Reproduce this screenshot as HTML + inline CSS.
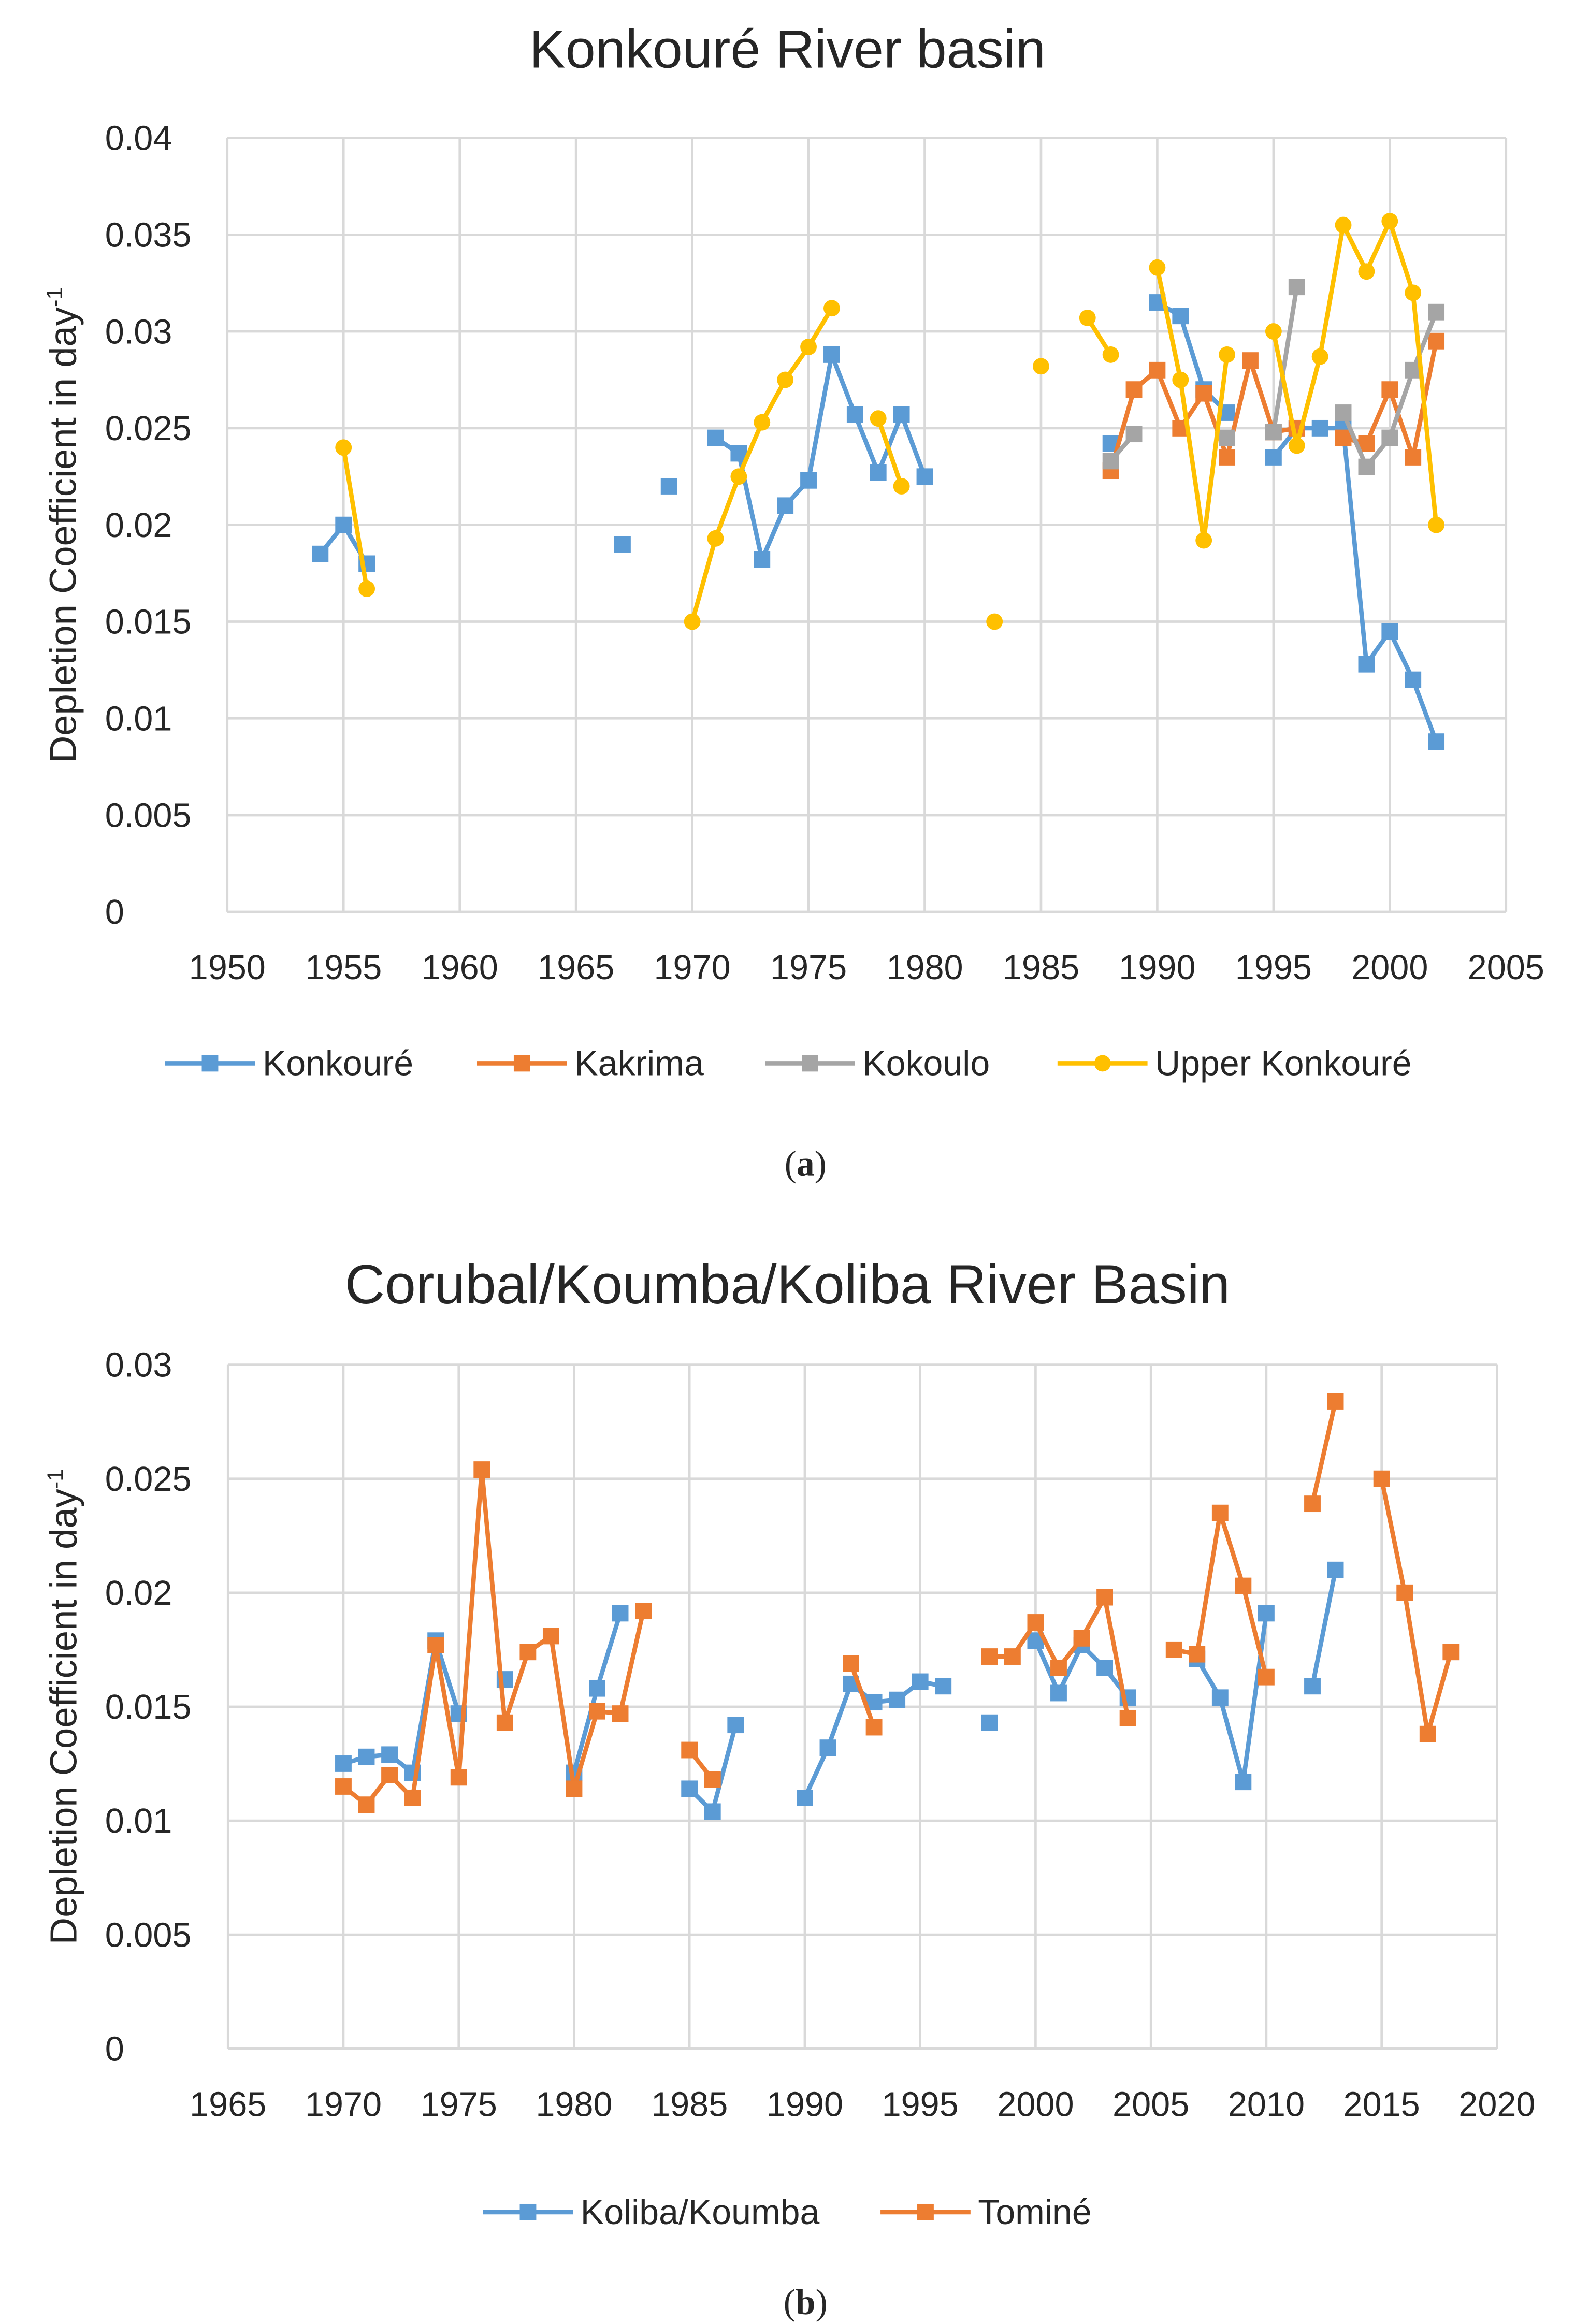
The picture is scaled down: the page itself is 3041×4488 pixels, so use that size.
<!DOCTYPE html>
<html><head><meta charset="utf-8">
<style>
html,body{margin:0;padding:0;background:#fff;}
svg{display:block;}
text{font-family:"Liberation Sans",sans-serif;fill:#262626;}
</style></head>
<body>
<svg id="fig" width="3041" height="4488" viewBox="0 0 1050 1549.6" xmlns="http://www.w3.org/2000/svg">
<g id="chartA"></g>
<g id="chartB"></g>
</svg>
<script>
// ---- Chart A data ----
const yearsA = [1950,1951,1952,1953,1954,1955,1956,1957,1958,1959,1960,1961,1962,1963,1964,1965,1966,1967,1968,1969,1970,1971,1972,1973,1974,1975,1976,1977,1978,1979,1980,1981,1982,1983,1984,1985,1986,1987,1988,1989,1990,1991,1992,1993,1994,1995,1996,1997,1998,1999,2000,2001,2002];
const konkoure = [null,null,null,null,0.0185,0.020,0.018,null,null,null,null,null,null,null,null,null,null,0.019,null,0.022,null,0.0245,0.0237,0.0182,0.021,0.0223,0.0288,0.0257,0.0227,0.0257,0.0225,null,null,null,null,null,null,null,0.0242,null,0.0315,0.0308,0.027,0.0258,null,0.0235,0.025,0.025,0.025,0.0128,0.0145,0.012,0.0088];
const kakrima = [null,null,null,null,null,null,null,null,null,null,null,null,null,null,null,null,null,null,null,null,null,null,null,null,null,null,null,null,null,null,null,null,null,null,null,null,null,null,0.0228,0.027,0.028,0.025,0.0268,0.0235,0.0285,0.0248,0.025,null,0.0245,0.0242,0.027,0.0235,0.0295];
const kokoulo = [null,null,null,null,null,null,null,null,null,null,null,null,null,null,null,null,null,null,null,null,null,null,null,null,null,null,null,null,null,null,null,null,null,null,null,null,null,null,0.0233,0.0247,null,null,null,0.0245,null,0.0248,0.0323,null,0.0258,0.023,0.0245,0.028,0.031];
const upperKonkoure = [null,null,null,null,null,0.024,0.0167,null,null,null,null,null,null,null,null,null,null,null,null,null,0.015,0.0193,0.0225,0.0253,0.0275,0.0292,0.0312,null,0.0255,0.022,null,null,null,0.015,null,0.0282,null,0.0307,0.0288,null,0.0333,0.0275,0.0192,0.0288,null,0.030,0.0241,0.0287,0.0355,0.0331,0.0357,0.032,0.020];
const xTicksA = [1950,1955,1960,1965,1970,1975,1980,1985,1990,1995,2000,2005];
const yTicksA = [0,0.005,0.01,0.015,0.02,0.025,0.03,0.035,0.04];
const yLabelsA = ["0","0.005","0.01","0.015","0.02","0.025","0.03","0.035","0.04"];
// ---- Chart B data ----
const yearsB = [1970,1971,1972,1973,1974,1975,1976,1977,1978,1979,1980,1981,1982,1983,1984,1985,1986,1987,1988,1989,1990,1991,1992,1993,1994,1995,1996,1997,1998,1999,2000,2001,2002,2003,2004,2005,2006,2007,2008,2009,2010,2011,2012,2013,2014,2015,2016,2017,2018];
const koliba = [0.0125,0.0128,0.0129,0.0121,0.0179,0.0147,null,0.0162,null,null,0.0121,0.0158,0.0191,null,null,0.0114,0.0104,0.0142,null,null,0.011,0.0132,0.016,0.0152,0.0153,0.0161,0.0159,null,0.0143,null,0.0179,0.0156,0.0177,0.0167,0.0154,null,null,0.0171,0.0154,0.0117,0.0191,null,0.0159,0.021,null,null,null,null,null];
const tomine = [0.0115,0.0107,0.012,0.011,0.0177,0.0119,0.0254,0.0143,0.0174,0.0181,0.0114,0.0148,0.0147,0.0192,null,0.0131,0.0118,null,null,null,null,null,0.0169,0.0141,null,null,null,null,0.0172,0.0172,0.0187,0.0167,0.018,0.0198,0.0145,null,0.0175,0.0173,0.0235,0.0203,0.0163,null,0.0239,0.0284,null,0.025,0.02,0.0138,0.0174];
const xTicksB = [1965,1970,1975,1980,1985,1990,1995,2000,2005,2010,2015,2020];
const yTicksB = [0,0.005,0.01,0.015,0.02,0.025,0.03];
const yLabelsB = ["0","0.005","0.01","0.015","0.02","0.025","0.03"];

const NS="http://www.w3.org/2000/svg";
function mk(tag, attrs, parent){const e=document.createElementNS(NS,tag);for(const k in attrs)e.setAttribute(k,attrs[k]);parent.appendChild(e);return e;}

function chart(g, cfg){
  const sx = v => cfg.x0 + (v-cfg.xmin)/(cfg.xmax-cfg.xmin)*(cfg.x1-cfg.x0);
  const sy = v => cfg.y1 - (v-cfg.ymin)/(cfg.ymax-cfg.ymin)*(cfg.y1-cfg.y0);
  const t = mk('text',{x:525,y:cfg.titleY,'text-anchor':'middle','font-size':cfg.titleSize},g);
  t.textContent = cfg.title;
  
  
  cfg.yt.forEach((v,i)=>{
    const l=mk('line',{x1:cfg.x0,x2:cfg.x1,y1:sy(v),y2:sy(v),stroke:'#d9d9d9','stroke-width':1.6},g);
    
    
    const tx=mk('text',{x:70,y:sy(v)+8,'text-anchor':'start','font-size':23},g);
    tx.textContent=cfg.yl[i];
    
    
  });
  cfg.xt.forEach(v=>{
    const l=mk('line',{x1:sx(v),x2:sx(v),y1:cfg.y0,y2:cfg.y1,stroke:'#d9d9d9','stroke-width':1.6},g);
    
    
    const tx=mk('text',{x:sx(v),y:cfg.y1+45,'text-anchor':'middle','font-size':23},g);
    tx.textContent=String(v);
    
    
  });
  const yt=mk('text',{x:0,y:0,'text-anchor':'middle','font-size':25,transform:`translate(${cfg.x0-101},${(cfg.y0+cfg.y1)/2}) rotate(-90)`},g);
  yt.innerHTML='Depletion Coefficient in day<tspan dy="-9" font-size="15">-1</tspan>';
  
  
  cfg.series.forEach(s=>{
    const sg=mk('g',{},g);
    
    
    let seg=[];
    const flush=()=>{ if(seg.length>1){const p=mk('polyline',{points:seg.join(' '),fill:'none',stroke:s.color,'stroke-width':3,'stroke-linejoin':'round'},sg);} seg=[]; };
    s.vals.forEach((v,i)=>{ if(v==null){flush();return;} seg.push(sx(cfg.years[i])+','+sy(v)); });
    flush();
    s.vals.forEach((v,i)=>{
      if(v==null)return;
      const x=sx(cfg.years[i]), y=sy(v);
      let m;
      if(s.shape==='circle') m=mk('circle',{cx:x,cy:y,r:5.5,fill:s.color},sg);
      else m=mk('rect',{x:x-5.5,y:y-5.5,width:11,height:11,fill:s.color},sg);
      
      
    });
  });
  cfg.legend.forEach((L,i)=>{
    const s=cfg.series[i];
    const lg=mk('g',{},g);
    
    
    mk('line',{x1:L.x,x2:L.x+60,y1:cfg.legY,y2:cfg.legY,stroke:s.color,'stroke-width':3},lg);
    if(s.shape==='circle') mk('circle',{cx:L.x+30,cy:cfg.legY,r:5.5,fill:s.color},lg);
    else mk('rect',{x:L.x+24.5,y:cfg.legY-5.5,width:11,height:11,fill:s.color},lg);
    const tx=mk('text',{x:L.x+65,y:cfg.legY+8,'font-size':23.5},lg);
    tx.textContent=s.name;
  });
  const cap=mk('text',{x:537,y:cfg.capY,'text-anchor':'middle','font-size':24,style:'font-family:"Liberation Serif",serif'},g);
  cap.innerHTML='(<tspan font-weight="bold">'+cfg.cap+'</tspan>)';
  
  
}

chart(document.getElementById('chartA'),{
  title:'Konkouré River basin', titleY:45, titleSize:36,
  x0:151.5,x1:1004,y0:92,y1:608,xmin:1950,xmax:2005,ymin:0,ymax:0.04,
  xt:xTicksA,yt:yTicksA,yl:yLabelsA,years:yearsA,
  series:[
    {key:'konkoure',name:'Konkouré',color:'#5B9BD5',shape:'rect',vals:konkoure},
    {key:'kakrima',name:'Kakrima',color:'#ED7D31',shape:'rect',vals:kakrima},
    {key:'kokoulo',name:'Kokoulo',color:'#A5A5A5',shape:'rect',vals:kokoulo},
    {key:'upper-konkoure',name:'Upper Konkouré',color:'#FFC000',shape:'circle',vals:upperKonkoure}
  ],
  legend:[{x:110},{x:318},{x:510},{x:705}], legY:709, cap:'a', capY:784
});
chart(document.getElementById('chartB'),{
  title:'Corubal/Koumba/Koliba River Basin', titleY:869, titleSize:37,
  x0:152,x1:998,y0:910,y1:1366,xmin:1965,xmax:2020,ymin:0,ymax:0.03,
  xt:xTicksB,yt:yTicksB,yl:yLabelsB,years:yearsB,
  series:[
    {key:'koliba-koumba',name:'Koliba/Koumba',color:'#5B9BD5',shape:'rect',vals:koliba},
    {key:'tomine',name:'Tominé',color:'#ED7D31',shape:'rect',vals:tomine}
  ],
  legend:[{x:322},{x:587}], legY:1475, cap:'b', capY:1543
});
</script>
</body></html>
